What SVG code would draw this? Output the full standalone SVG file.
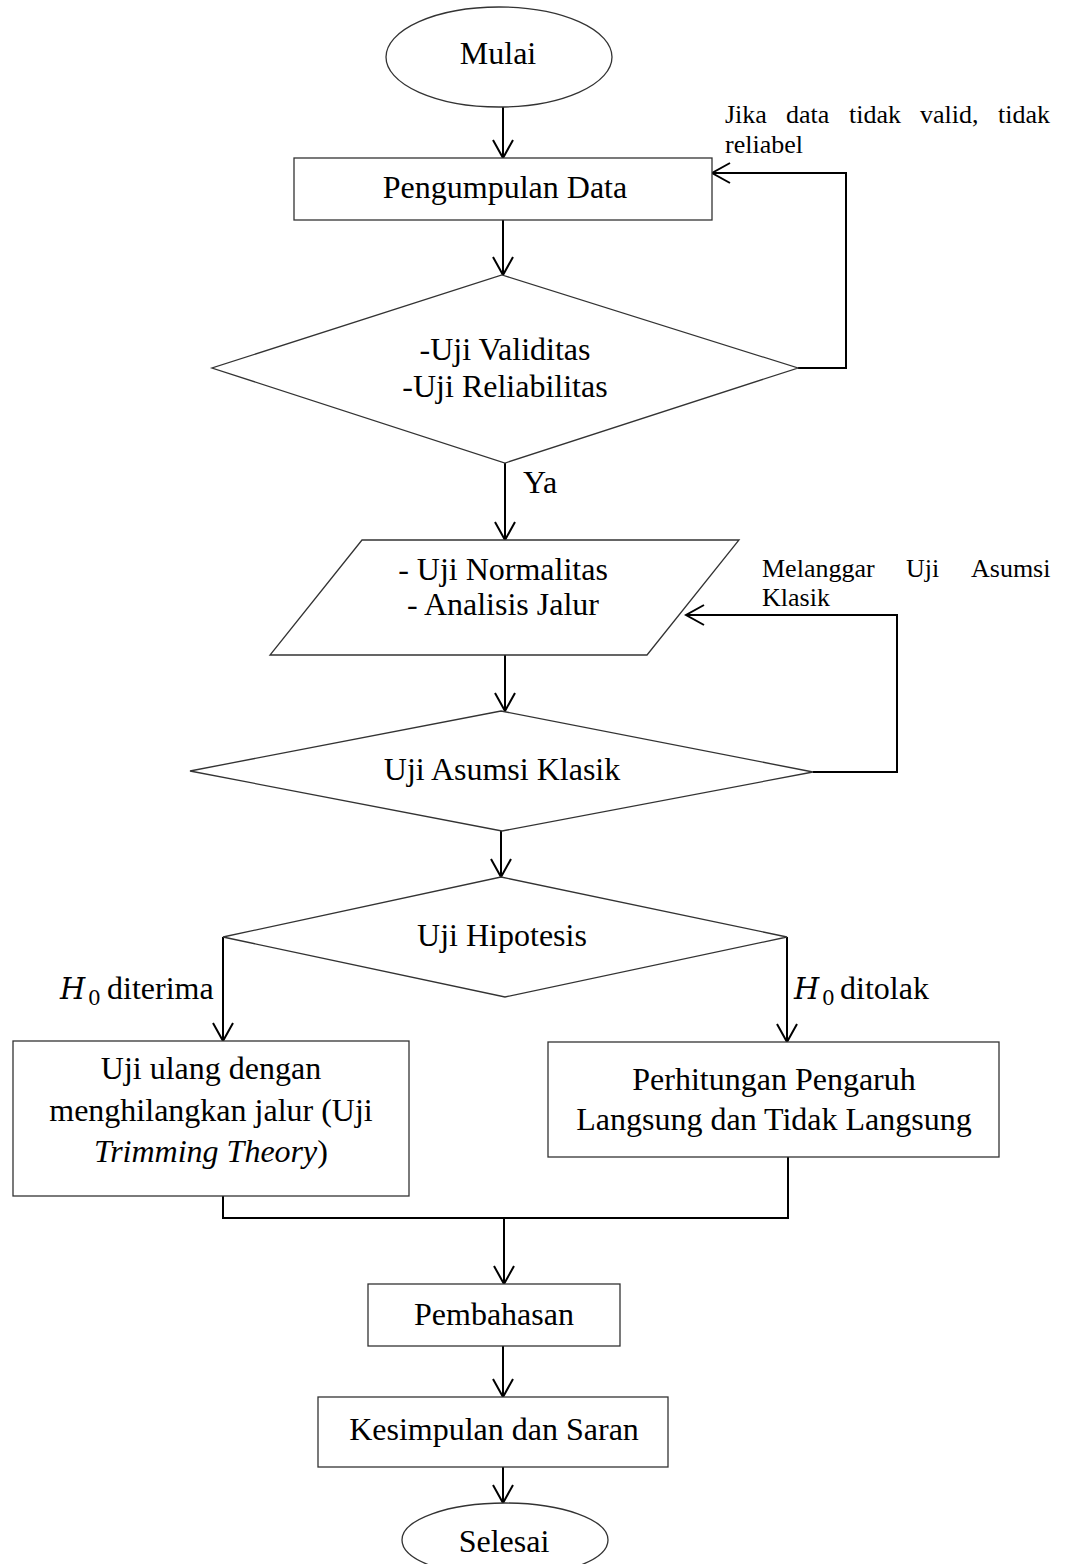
<svg xmlns="http://www.w3.org/2000/svg" width="1070" height="1564" viewBox="0 0 1070 1564">
<style>
.shape{fill:#fff;stroke:#333;stroke-width:1.3}
.con{fill:none;stroke:#000;stroke-width:2}
.t{font-family:"Liberation Serif","Times New Roman",serif;font-size:32px;fill:#000;text-anchor:middle}
.s{font-family:"Liberation Serif","Times New Roman",serif;font-size:26px;fill:#000}
.l{font-family:"Liberation Serif","Times New Roman",serif;font-size:32px;fill:#000}
.m{font-family:"DejaVu Serif",serif;font-style:italic;font-size:29px;fill:#000}
.m0{font-family:"DejaVu Serif",serif;font-size:20px;fill:#000}
</style>
<defs>
<marker id="arr" viewBox="-20 -12 22 24" refX="0" refY="0" markerWidth="22" markerHeight="24" markerUnits="userSpaceOnUse" orient="auto">
<path d="M-18,-10 L0,0 L-18,10" fill="none" stroke="#000" stroke-width="2"/>
</marker>
</defs>
<rect width="1070" height="1564" fill="#fff"/>
<g id="connectors">
<path class="con" d="M503,107 V158" marker-end="url(#arr)"/>
<path class="con" d="M503,220 V275" marker-end="url(#arr)"/>
<path class="con" d="M798,368 H846 V173 H712" marker-end="url(#arr)"/>
<path class="con" d="M505,463 V540" marker-end="url(#arr)"/>
<path class="con" d="M505,655 V711" marker-end="url(#arr)"/>
<path class="con" d="M813,772 H897 V615 H686" marker-end="url(#arr)"/>
<path class="con" d="M501,831 V877" marker-end="url(#arr)"/>
<path class="con" d="M223,937 V1041" marker-end="url(#arr)"/>
<path class="con" d="M787,937 V1042" marker-end="url(#arr)"/>
<path class="con" d="M223,1196 V1218 H788 V1157"/>
<path class="con" d="M504,1218 V1284" marker-end="url(#arr)"/>
<path class="con" d="M503,1346 V1397" marker-end="url(#arr)"/>
<path class="con" d="M503,1467 V1503" marker-end="url(#arr)"/>
</g>
<g id="labels">
<text class="s" x="725" y="123">Jika</text>
<text class="s" x="786" y="123">data</text>
<text class="s" x="849" y="123">tidak</text>
<text class="s" x="920" y="123">valid,</text>
<text class="s" x="998" y="123">tidak</text>
<text class="s" x="725" y="153">reliabel</text>
<text class="l" x="523" y="493">Ya</text>
<text class="s" x="762" y="577">Melanggar</text>
<text class="s" x="906" y="577">Uji</text>
<text class="s" x="971" y="577">Asumsi</text>
<text class="s" x="762" y="606">Klasik</text>
<text class="m" x="60" y="999">H</text>
<text class="m0" x="88" y="1005">0</text>
<text class="l" x="107" y="999">diterima</text>
<text class="m" x="794" y="999">H</text>
<text class="m0" x="822" y="1005">0</text>
<text class="l" x="840" y="999">ditolak</text>
</g>
<g id="mulai">
<ellipse class="shape" cx="499" cy="57" rx="113" ry="50"/>
<text class="t" x="498" y="64">Mulai</text>
</g>
<g id="pengumpulan">
<rect class="shape" x="294" y="158" width="418" height="62"/>
<text class="t" x="505" y="198">Pengumpulan Data</text>
</g>
<g id="uji-validitas">
<polygon class="shape" points="502,275 798,368 505,463 212,368"/>
<text class="t" x="505" y="360">-Uji Validitas</text>
<text class="t" x="505" y="397">-Uji Reliabilitas</text>
</g>
<g id="normalitas">
<polygon class="shape" points="362,540 739,540 647,655 270,655"/>
<text class="t" x="503" y="580">- Uji Normalitas</text>
<text class="t" x="503" y="615">- Analisis Jalur</text>
</g>
<g id="asumsi">
<polygon class="shape" points="501,711 813,772 502,831 190,771"/>
<text class="t" x="502" y="780">Uji Asumsi Klasik</text>
</g>
<g id="hipotesis">
<polygon class="shape" points="501,877 787,937 505,997 223,937"/>
<text class="t" x="502" y="946">Uji Hipotesis</text>
</g>
<g id="uji-ulang">
<rect class="shape" x="13" y="1041" width="396" height="155"/>
<text class="t" x="211" y="1079">Uji ulang dengan</text>
<text class="t" x="211" y="1121">menghilangkan jalur (Uji</text>
<text class="t" x="211" y="1162"><tspan font-style="italic">Trimming Theory</tspan>)</text>
</g>
<g id="perhitungan">
<rect class="shape" x="548" y="1042" width="451" height="115"/>
<text class="t" x="774" y="1090">Perhitungan Pengaruh</text>
<text class="t" x="774" y="1130">Langsung dan Tidak Langsung</text>
</g>
<g id="pembahasan">
<rect class="shape" x="368" y="1284" width="252" height="62"/>
<text class="t" x="494" y="1325">Pembahasan</text>
</g>
<g id="kesimpulan">
<rect class="shape" x="318" y="1397" width="350" height="70"/>
<text class="t" x="494" y="1440">Kesimpulan dan Saran</text>
</g>
<g id="selesai">
<ellipse class="shape" cx="505" cy="1540" rx="103" ry="37"/>
<text class="t" x="504" y="1552">Selesai</text>
</g>
</svg>
